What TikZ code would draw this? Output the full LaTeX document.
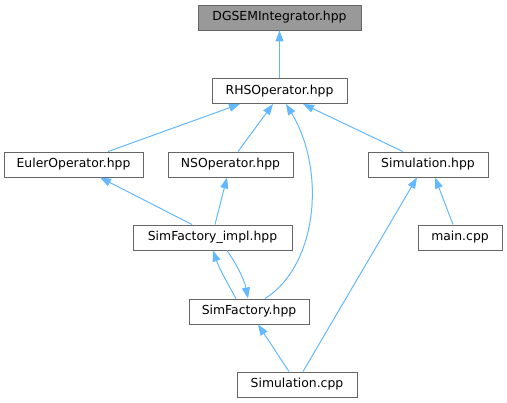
\documentclass[tikz,border=0pt]{standalone}
\usepackage{fontspec}
\setmainfont{DejaVu Sans}
\usetikzlibrary{calc,arrows.meta}
\definecolor{edgeblue}{HTML}{63B8FF}
\definecolor{boxgray}{HTML}{666666}
\definecolor{rootgray}{HTML}{999999}
\tikzset{
	filebox/.style={draw=boxgray,fill=white,line width=0.9pt,inner sep=0pt,minimum height=25pt,font=\fontsize{12.4}{14}\selectfont},
	rootbox/.style={filebox,fill=rootgray}, % the file whose includers are shown
	incl/.style={draw=edgeblue,line width=1pt,-{Triangle[length=11pt,width=8pt]}},
}

\begin{document}
\begin{tikzpicture}[x=1pt,y=-1pt]
			\useasboundingbox (0,0) rectangle (507,403);
			
			% file boxes, one row per include level
			\node[rootbox,minimum width=163pt] (dgsem) at (279.5,17.5) {DGSEMIntegrator.hpp};
			\node[filebox,minimum width=135pt] (rhs) at (279.5,91) {RHSOperator.hpp};
			\node[filebox,minimum width=139pt] (euler) at (73.5,164.5) {EulerOperator.hpp};
			\node[filebox,minimum width=125pt] (ns) at (230.5,164.5) {NSOperator.hpp};
			\node[filebox,minimum width=120pt] (simhpp) at (428,164.5) {Simulation.hpp};
			\node[filebox,minimum width=159pt] (impl) at (212.5,237.5) {SimFactory\_impl.hpp};
			\node[filebox,minimum width=84pt] (mainc) at (460,237.5) {main.cpp};
			\node[filebox,minimum width=120pt] (simfac) at (249,311.5) {SimFactory.hpp};
			\node[filebox,minimum width=120pt] (simcpp) at (297,384.5) {Simulation.cpp};
			
			% include edges, arrow points at the included file
			\draw[incl] (rhs.north) -- (dgsem.south);
			\draw[incl] ($(euler.north)+(34.5,0)$) -- ($(rhs.south)+(-39.5,0)$);
			\draw[incl] ($(ns.north)+(7.5,0)$) -- ($(rhs.south)+(-6.5,0)$);
			\draw[incl] ($(simfac.north)+(16,0)$) .. controls (318,265) and (326,170) .. ($(rhs.south)+(6.5,0)$);
			\draw[incl] ($(simhpp.north)+(-25,0)$) -- ($(rhs.south)+(23.5,0)$);
			\draw[incl] ($(impl.north)+(-20.5,0)$) -- ($(euler.south)+(26.5,0)$);
			\draw[incl] ($(impl.north)+(2.5,0)$) -- ($(ns.south)+(-3.5,0)$);
			\draw[incl] ($(simfac.north)+(-13,0)$) .. controls (229,286) and (219,268) .. ($(impl.south)+(0.5,0)$);
			\draw[incl] ($(impl.south)+(14.5,0)$) .. controls (235,262) and (244,278) .. ($(simfac.north)+(-1,0)$);
			\draw[incl] ($(simcpp.north)+(-8,0)$) -- ($(simfac.south)+(9,0)$);
			\draw[incl] ($(simcpp.north)+(6,0)$) -- ($(simhpp.south)+(-11,0)$);
			\draw[incl] ($(mainc.north)+(-7,0)$) -- ($(simhpp.south)+(7,0)$);
			
\end{tikzpicture}
\end{document}
